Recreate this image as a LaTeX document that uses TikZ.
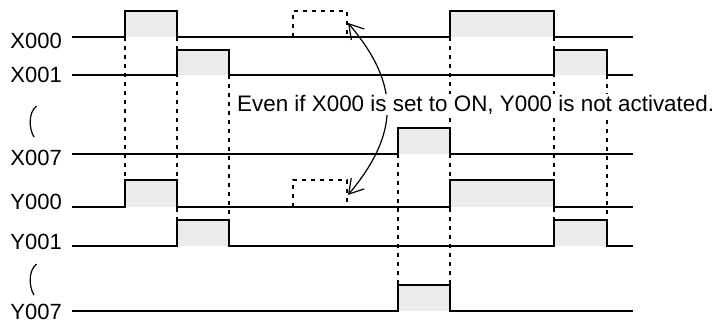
\documentclass[tikz,border=0pt]{standalone}
\usepackage{fontspec}
\setmainfont{Liberation Sans}
\usetikzlibrary{arrows.meta}
\definecolor{pulsefill}{RGB}{235,235,235}
\begin{document}
\begin{tikzpicture}[x=1pt,y=-1pt,
  sig/.style={line width=2pt, line join=miter},
  guide/.style={line width=1.8pt, dash pattern=on 4pt off 5pt},
  ghost/.style={line width=1.8pt, dash pattern=on 4pt off 5pt},
  pulse/.style={fill=pulsefill},
  lbl/.style={anchor=base east, inner sep=0pt, font=\fontsize{22}{26}\selectfont},
  squig/.style={line width=1.2pt},
  notebox/.style={anchor=base west, fill=white, inner sep=1pt, font=\fontsize{22.4}{27}\selectfont},
  swing/.style={line width=1.2pt, {Straight Barb[length=14pt,width=17pt]}-{Straight Barb[length=14pt,width=17pt]}}]
\useasboundingbox (0,0) rectangle (720,324);
\def\xS{72}\def\xE{633}
\def\tA{125}\def\tB{177}\def\tC{229}\def\tD{397.7}\def\tE{450}\def\tF{554}\def\tG{606.7}
\def\gA{292.7}\def\gB{346.7}
% fills
\fill[pulse] (\tA,11) rectangle (\tB,37);
\fill[pulse] (\tE,11) rectangle (\tF,37);
\fill[pulse] (\tB,50) rectangle (\tC,75);
\fill[pulse] (\tF,50) rectangle (\tG,75);
\fill[pulse] (\tD,128) rectangle (\tE,154);
\fill[pulse] (\tA,180) rectangle (\tB,207);
\fill[pulse] (\tE,180) rectangle (\tF,207);
\fill[pulse] (\tB,220) rectangle (\tC,246);
\fill[pulse] (\tF,220) rectangle (\tG,246);
\fill[pulse] (\tD,285) rectangle (\tE,311);
% guide lines
\draw[guide] (\tA,37) -- (\tA,180);
\draw[guide] (\tB,37) -- (\tB,220);
\draw[guide] (\tC,75) -- (\tC,220);
\draw[guide] (\tD,154) -- (\tD,285);
\draw[guide] (\tE,37) -- (\tE,285);
\draw[guide] (\tF,37) -- (\tF,220);
\draw[guide] (\tG,75) -- (\tG,220);
% signals
\draw[sig] (\xS,37) -| (\tA,11) -| (\tB,37) -| (\tE,11) -| (\tF,37) -- (\xE,37);
\draw[sig] (\xS,75) -| (\tB,50) -| (\tC,75) -| (\tF,50) -| (\tG,75) -- (\xE,75);
\draw[sig] (\xS,154) -| (\tD,128) -| (\tE,154) -- (\xE,154);
\draw[sig] (\xS,207) -| (\tA,180) -| (\tB,207) -| (\tE,180) -| (\tF,207) -- (\xE,207);
\draw[sig] (\xS,246) -| (\tB,220) -| (\tC,246) -| (\tF,220) -| (\tG,246) -- (\xE,246);
\draw[sig] (\xS,311) -| (\tD,285) -| (\tE,311) -- (\xE,311);
% ghost pulses
\draw[ghost] (\gA,37) |- (\gB,11) -- (\gB,37);
\draw[ghost] (\gA,207) |- (\gB,180) -- (\gB,207);
% labels
\node[lbl] (lX0) at (62,48) {X000};
\node[lbl] (lX1) at (62,82) {X001};
\node[lbl] (lX7) at (62,165) {X007};
\node[lbl] (lY0) at (62,209) {Y000};
\node[lbl] (lY1) at (62,249) {Y001};
\node[lbl] (lY7) at (62,319.5) {Y007};
% squiggles
\draw[squig] (36.5,106) .. controls (28,113) and (29,129) .. (34,137);
\draw[squig] (36.5,264) .. controls (28,271) and (29,287) .. (34,295);
% arrow
\coordinate (atop) at (348,23);
\coordinate (abot) at (348,195);
\draw[swing] (atop) .. controls (400,84) and (400,133) .. (abot);
% note
\node[notebox] (note) at (236,111) {Even if X000 is set to ON, Y000 is not activated.};
\end{tikzpicture}
\end{document}
